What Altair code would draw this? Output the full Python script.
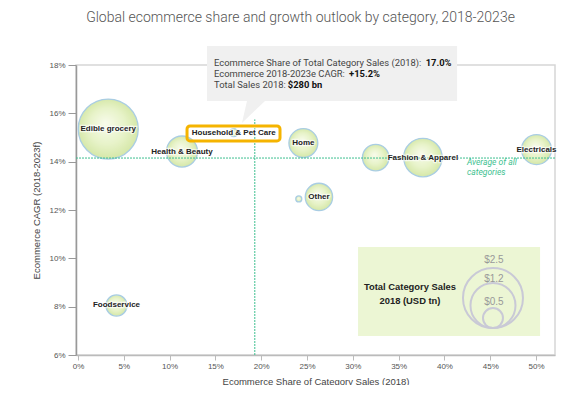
import altair as alt
import pandas as pd

# ---------------- data ----------------
categories = ["Edible grocery", "Health & Beauty", "Household & Pet Care", "Home", "Other (small)",
              "Other", "Fashion (other)", "Fashion & Apparel", "Electricals", "Foodservice"]
labels = ["Edible grocery", "Health & Beauty", "Household & Pet Care", "Home", "",
          "Other", "", "Fashion & Apparel", "Electricals", "Foodservice"]
share = [3.3, 11.35, 17.0, 24.6, 24.1, 26.3, 32.5, 37.65, 50.05, 4.2]      # %
cagr = [15.35, 14.42, 15.2, 14.77, 12.46, 12.54, 14.17, 14.17, 14.5, 8.05]  # %
sales = [2.5, 0.67, 0.045, 0.58, 0.025, 0.52, 0.49, 1.03, 0.62, 0.31]     # USD tn (bubble size)

avg_share = 19.3
avg_cagr = 14.15

x_ticks = [0, 5, 10, 15, 20, 25, 30, 35, 40, 45, 50]
y_ticks = [6, 8, 10, 12, 14, 16, 18]

tip_regular = ["Ecommerce Share of Total Category Sales (2018): ",
               "Ecommerce 2018-2023e CAGR: ",
               "Total Sales 2018: "]
tip_bold = ["17.0%", "+15.2%", "$280 bn"]

avg_text = ["Average of all", "categories"]

legend_values = [2.5, 1.2, 0.5]
legend_labels = ["$2.5", "$1.2", "$0.5"]
legend_title = ["Total  Category Sales", "2018 (USD tn)"]

# annotation placements (data units)
tip_box = dict(x=14.08, x2=41.38, y=18.79, y2=16.51)
tip_text_x = 14.85
tip_bold_x = [37.95, 29.59, 22.9]
tip_text_y = [18.08, 17.63, 17.17]
pointer = dict(x=19.21, y=16.06)
hl_box = dict(x=11.9, x2=22.05, y=15.48, y2=14.86)
avg_text_pos = dict(x=42.45, y=[13.99, 13.57])
vline_top = 15.75
leg_box = dict(x=30.57, x2=50.44, y=10.47, y2=6.79)
leg_circle_x = 45.3
leg_circle_y = [8.36, 8.05, 7.53]
leg_label_x = 45.4
leg_label_y = [9.93, 9.15, 8.19]
leg_title_x = 36.24
leg_title_y = [8.82, 8.24]

# ---------------- tables ----------------
bub = pd.DataFrame(dict(cat=categories, label=labels, x=share, y=cagr, sales=sales))

X = alt.Scale(domain=[-0.22, 52.07], nice=False, zero=False)
Y = alt.Scale(domain=[6, 18], nice=False, zero=False)

x_axis = alt.Axis(values=x_ticks, labelExpr="datum.value + '%'", title="Ecommerce Share of Category Sales (2018)",
                  grid=False, domainColor="#bbbbbb", domainWidth=1.5, tickColor="#bbbbbb", tickSize=5,
                  labelColor="#555555", labelFontSize=8, labelPadding=2, titleFontSize=9.5,
                  titleColor="#444444", titleFontWeight="normal", titlePadding=6, labelFont="Liberation Sans",
                  titleFont="Liberation Sans")
y_axis = alt.Axis(values=y_ticks, labelExpr="datum.value + '%'", title="Ecommerce CAGR (2018-2023f)",
                  grid=False, domainColor="#999999", domainWidth=1.5, tickColor="#999999", tickSize=8,
                  labelColor="#555555", labelFontSize=8, labelPadding=3, titleFontSize=9.5,
                  titleColor="#444444", titleFontWeight="normal", titlePadding=7, labelFont="Liberation Sans",
                  titleFont="Liberation Sans")


def xq(field="x"):
    return alt.X(f"{field}:Q", scale=X, axis=x_axis)


def yq(field="y"):
    return alt.Y(f"{field}:Q", scale=Y, axis=y_axis)


gradient = {"gradient": "radial",
            "stops": [{"offset": 0, "color": "#f7fbea"}, {"offset": 0.55, "color": "#e6f2c6"},
                      {"offset": 1, "color": "#cfe49c"}],
            "x1": 0.45, "y1": 0.4, "x2": 0.5, "y2": 0.5, "r1": 0, "r2": 0.55}

legend_bg = alt.Chart(pd.DataFrame([leg_box])).mark_rect(color="#ecf6d4").encode(
    x=xq(), x2="x2", y=yq(), y2="y2")

bubbles = alt.Chart(bub).mark_point(filled=True, fill=gradient, stroke="#a9cde3", strokeWidth=1.3,
                                    opacity=1, fillOpacity=0.95).encode(
    x=xq(), y=yq(),
    size=alt.Size("sales:Q", scale=alt.Scale(domain=[0, 2.5], range=[0, 3600]), legend=None))

hline = alt.Chart(pd.DataFrame({"y": [avg_cagr]})).mark_rule(color="#3dbf8f", strokeWidth=1,
                                                              strokeDash=[2, 1]).encode(y=yq())
vline = alt.Chart(pd.DataFrame({"x": [avg_share], "y": [6], "y2": [vline_top]})).mark_rule(
    color="#3dbf8f", strokeWidth=1, strokeDash=[2, 1]).encode(x=xq(), y=yq(), y2="y2")

lab_df = bub[bub.label != ""]
halo = alt.Chart(lab_df).mark_text(fontWeight="bold", fontSize=8, font="Liberation Sans", stroke="white",
                                   strokeWidth=2.5, strokeOpacity=0.6, color="white").encode(
    x=xq(), y=yq(), text="label:N")
label_txt = alt.Chart(lab_df).mark_text(fontWeight="bold", fontSize=8, font="Liberation Sans",
                                        color="#222222").encode(x=xq(), y=yq(), text="label:N")

avg_df = pd.DataFrame({"x": [avg_text_pos["x"]] * 2, "y": avg_text_pos["y"], "t": avg_text})
avg_lbl = alt.Chart(avg_df).mark_text(align="left", fontStyle="italic", fontSize=8.5, font="Roboto",
                                      color="#3dbf8f").encode(x=xq(), y=yq(), text="t:N")

hl = alt.Chart(pd.DataFrame([hl_box])).mark_rect(fillOpacity=0, stroke="#f5b400", strokeWidth=3,
                                                 cornerRadius=3).encode(x=xq(), x2="x2", y=yq(), y2="y2")

tip = alt.Chart(pd.DataFrame([tip_box])).mark_rect(color="#f0f0f0").encode(x=xq(), x2="x2", y=yq(), y2="y2")
ptr = alt.Chart(pd.DataFrame([pointer])).mark_point(
    shape="M-0.583,-0.917L0.917,-0.917L-1,0.917Z", filled=True, fill="#f0f0f0", strokeWidth=0,
    size=576, opacity=1).encode(x=xq(), y=yq())
tip_df = pd.DataFrame({"x": [tip_text_x] * 3, "xb": tip_bold_x, "y": tip_text_y,
                       "reg": tip_regular, "bold": tip_bold})
tip_reg = alt.Chart(tip_df).mark_text(align="left", fontSize=9.4, font="Roboto", color="#444444").encode(
    x=xq(), y=yq(), text="reg:N")
tip_b = alt.Chart(tip_df).mark_text(align="left", fontSize=9.4, font="Roboto", fontWeight="bold",
                                    color="#111111").encode(x=xq("xb"), y=yq(), text="bold:N")

leg_c_df = pd.DataFrame({"x": [leg_circle_x] * 3, "y": leg_circle_y, "v": legend_values})
leg_circles = alt.Chart(leg_c_df).mark_point(filled=False, stroke="#c9c9d6", strokeWidth=2, opacity=1).encode(
    x=xq(), y=yq(),
    size=alt.Size("v:Q", scale=alt.Scale(domain=[0.5, 1.2, 2.5], range=[400, 2025, 3600]), legend=None))
leg_l_df = pd.DataFrame({"x": [leg_label_x] * 3, "y": leg_label_y, "t": legend_labels})
leg_labels = alt.Chart(leg_l_df).mark_text(fontSize=10, font="Liberation Sans", color="#999999").encode(
    x=xq(), y=yq(), text="t:N")
leg_t_df = pd.DataFrame({"x": [leg_title_x] * 2, "y": leg_title_y, "t": legend_title})
leg_title = alt.Chart(leg_t_df).mark_text(fontSize=9.4, font="Liberation Sans", fontWeight="bold",
                                          color="#222222").encode(x=xq(), y=yq(), text="t:N")

chart = alt.layer(
    legend_bg, bubbles, hline, vline, halo, label_txt, avg_lbl, hl, tip, ptr, tip_reg, tip_b,
    leg_circles, leg_labels, leg_title
).resolve_scale(size="independent").properties(
    width=479, height=290,
    autosize=alt.AutoSizeParams(type="none"),
    padding={"left": 68, "top": 57, "right": 5, "bottom": 30},
    title=alt.TitleParams("Global ecommerce share and growth outlook by category, 2018-2023e",
                          fontSize=14, font="Roboto", fontWeight=300, color="#555555",
                          anchor="middle", dx=-15, offset=21)
).configure_view(stroke="#d6d6d6", strokeWidth=1.5)

chart.save("out.html", embed_options={"renderer": "svg", "actions": False})
